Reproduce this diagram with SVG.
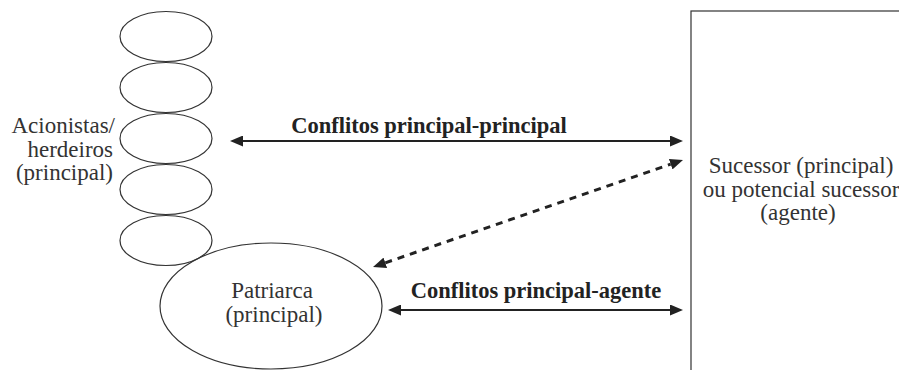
<svg xmlns="http://www.w3.org/2000/svg" width="899" height="370" viewBox="0 0 899 370">
<defs>
<style>
.shape{fill:none;stroke:#333;stroke-width:1.2}
.lbl{font-family:'Liberation Serif','Times New Roman',serif;font-size:23px;fill:#333}
.bold{font-family:'Liberation Serif','Times New Roman',serif;font-size:22.5px;font-weight:bold;fill:#222}
.conn{stroke:#222;stroke-width:2.2;fill:none}
.dash{stroke-width:3;stroke-dasharray:7 6}
</style>
<marker id="ah" viewBox="0 0 13 11" refX="0" refY="5.5" markerWidth="13" markerHeight="11" markerUnits="userSpaceOnUse" orient="auto-start-reverse">
<path d="M0,0 L13,5.5 L0,11 z" fill="#222"/>
</marker>
</defs>
<rect width="899" height="370" fill="#fff"/>
<g id="sucessor">
<rect class="shape" x="691" y="11" width="230" height="380"/>
<text class="lbl" text-anchor="middle"><tspan x="801" y="173">Sucessor (principal)</tspan><tspan x="801" y="197">ou potencial sucessor</tspan><tspan x="798" y="220">(agente)</tspan></text>
</g>
<g id="acionistas">
<ellipse class="shape" cx="166" cy="36.5" rx="46" ry="25"/>
<ellipse class="shape" cx="166" cy="87.5" rx="46" ry="25"/>
<ellipse class="shape" cx="166" cy="138.5" rx="46" ry="25"/>
<ellipse class="shape" cx="166" cy="189.5" rx="46" ry="25"/>
<ellipse class="shape" cx="166" cy="240.5" rx="46" ry="25"/>
<text class="lbl" text-anchor="end"><tspan x="115" y="133">Acionistas/</tspan><tspan x="113" y="157">herdeiros</tspan><tspan x="113" y="180">(principal)</tspan></text>
</g>
<g id="patriarca">
<ellipse class="shape" cx="271" cy="306" rx="111" ry="63"/>
<text class="lbl" text-anchor="middle"><tspan x="272" y="298">Patriarca</tspan><tspan x="274" y="322">(principal)</tspan></text>
</g>
<g id="connectors">
<line class="conn" x1="243" y1="141" x2="670" y2="141" marker-start="url(#ah)" marker-end="url(#ah)"/>
<text class="bold" x="429" y="133" text-anchor="middle">Conflitos principal-principal</text>
<line class="conn dash" x1="385.3" y1="262.8" x2="670.7" y2="164.2" marker-start="url(#ah)" marker-end="url(#ah)"/>
<line class="conn" x1="401" y1="310" x2="670" y2="310" marker-start="url(#ah)" marker-end="url(#ah)"/>
<text class="bold" x="536" y="298" text-anchor="middle">Conflitos principal-agente</text>
</g>
</svg>
